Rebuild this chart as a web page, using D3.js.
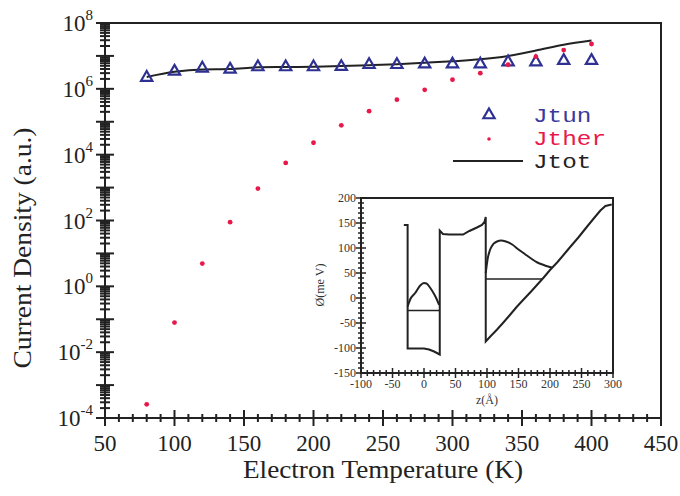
<!DOCTYPE html>
<html>
<head>
<meta charset="utf-8">
<script src="https://cdn.jsdelivr.net/npm/d3@7"></script>
<style>
  body { margin: 0; background: #fff; }
  svg { display: block; }
</style>
</head>
<body>
<div id="vis"></div>
<script>
// frame
const FRAME_WIDTH = 680;
const FRAME_HEIGHT = 496;
const PLOT = {left: 105, right: 661, top: 23, bottom: 418};

// main data
const temps = [80, 100, 120, 140, 160, 180, 200, 220, 240, 260, 280, 300, 320, 340, 360, 380, 400];
const jtun  = [2.2e6, 3.4e6, 4.2e6, 3.9e6, 4.6e6, 4.6e6, 4.6e6, 4.7e6, 5.4e6, 5.4e6, 5.6e6, 5.6e6, 5.6e6, 6.5e6, 6.5e6, 7.2e6, 7.2e6];
const jther = [2.6e-4, 7.9e-2, 4.9, 89, 930, 5.6e3, 2.3e4, 7.8e4, 2.1e5, 4.7e5, 9.3e5, 1.9e6, 3.0e6, 5.4e6, 9.5e6, 1.5e7, 2.3e7];
const jtot  = [2.3e6, 3.3e6, 3.9e6, 4.0e6, 4.5e6, 4.6e6, 4.7e6, 4.9e6, 5.2e6, 5.6e6, 6.2e6, 6.9e6, 7.9e6, 1.0e7, 1.45e7, 2.2e7, 2.95e7];

const xTicks = [50, 100, 150, 200, 250, 300, 350, 400, 450];
const yLabelExps = [-4, -2, 0, 2, 4, 6, 8];
const legendNames = ["Jtun", "Jther", "Jtot"];

// inset data: potential profile and wave functions
const potZ = [-32, -26, -26, 0, 8, 16, 25, 25, 30, 40, 50, 62, 72, 84, 92, 96, 98, 98, 106, 116, 126, 137, 147, 158, 170, 180, 190, 200, 212, 222, 232, 245, 259, 270, 280, 288, 298];
const potV = [146, 146, -101, -101, -103, -107, -113, 135, 128, 127, 127, 127, 134, 141, 146, 152, 162, -87, -76, -63, -49, -33, -18, -3, 13, 27, 41, 56, 72, 87, 102, 121, 143, 160, 175, 184, 187];
const wave1Z = [-26, -22, -14, -6, 0, 4, 10, 16, 20, 24];
const wave1V = [-17, -3, 10, 25, 30, 29, 20, 8, -2, -14];
const wave2Z = [98, 101, 105, 110, 116, 122, 130, 140, 150, 160, 170, 180, 190, 197, 203];
const wave2V = [50, 78, 97, 108, 113, 115, 113, 107, 97, 88, 79, 71, 66, 63, 61];
const levelZ = [[-26, 25], [98, 188]];
const levelV = [-25, 38];
const insetXTicks = [-100, -50, 0, 50, 100, 150, 200, 250, 300];
const insetYTicks = [-150, -100, -50, 0, 50, 100, 150, 200];

const BLUE = "#2e3192";
const RED = "#e8194a";
const INK = "#222";
const SERIF = "'Liberation Serif', 'Times New Roman', serif";

const svg = d3.select("#vis")
  .append("svg")
    .attr("width", FRAME_WIDTH)
    .attr("height", FRAME_HEIGHT);

const X_SCALE = d3.scaleLinear().domain([50, 450]).range([PLOT.left, PLOT.right]);
const Y_SCALE = d3.scaleLog().domain([1e-4, 1e8]).range([PLOT.bottom, PLOT.top]);

// top + right frame lines
svg.append("path")
  .attr("d", `M${PLOT.left},${PLOT.top}H${PLOT.right}V${PLOT.bottom}`)
  .attr("fill", "none").attr("stroke", INK).attr("stroke-width", 2);

// x axis (ticks cross the line)
const xMinor = d3.range(50, 451, 10);
const xAxis = svg.append("g").attr("transform", `translate(0,${PLOT.bottom})`);
xAxis.append("line").attr("x1", PLOT.left).attr("x2", PLOT.right)
  .attr("stroke", INK).attr("stroke-width", 2);
xAxis.selectAll("line.tk").data(xMinor).enter().append("line")
  .attr("class", "tk")
  .attr("x1", d => X_SCALE(d)).attr("x2", d => X_SCALE(d))
  .attr("y1", d => d % 50 === 0 ? -8 : -4)
  .attr("y2", d => d % 50 === 0 ? 8 : 4)
  .attr("stroke", INK).attr("stroke-width", 2);
xAxis.selectAll("text").data(xTicks).enter().append("text")
  .attr("x", d => X_SCALE(d)).attr("y", 33)
  .attr("text-anchor", "middle")
  .attr("font-family", SERIF).attr("font-size", 23).attr("fill", INK)
  .text(d => d);

// y axis (log, minor ticks 2..9)
const yTickVals = [];
for (let e = -4; e <= 8; e++) {
  yTickVals.push({v: Math.pow(10, e), major: true});
  if (e < 8) for (let m = 2; m <= 9; m++) yTickVals.push({v: m * Math.pow(10, e), major: false});
}
const yAxis = svg.append("g").attr("transform", `translate(${PLOT.left},0)`);
yAxis.append("line").attr("y1", PLOT.top).attr("y2", PLOT.bottom)
  .attr("stroke", INK).attr("stroke-width", 2);
yAxis.selectAll("line.tk").data(yTickVals).enter().append("line")
  .attr("class", "tk")
  .attr("y1", d => Y_SCALE(d.v)).attr("y2", d => Y_SCALE(d.v))
  .attr("x1", d => d.major ? -9 : -5)
  .attr("x2", d => d.major ? 9 : 5)
  .attr("stroke", INK).attr("stroke-width", 2);
const yLab = yAxis.selectAll("text").data(yLabelExps).enter().append("text")
  .attr("x", -12).attr("y", d => Y_SCALE(Math.pow(10, d)) + 8)
  .attr("text-anchor", "end")
  .attr("font-family", SERIF).attr("font-size", 23).attr("fill", INK);
yLab.append("tspan").text("10");
yLab.append("tspan").attr("dy", -11).attr("font-size", 15).text(d => d);

// axis titles
svg.append("text")
  .attr("x", 383).attr("y", 478)
  .attr("text-anchor", "middle")
  .attr("textLength", 280).attr("lengthAdjust", "spacingAndGlyphs")
  .attr("font-family", SERIF).attr("font-size", 25).attr("fill", INK)
  .text("Electron Temperature (K)");
svg.append("text")
  .attr("transform", "translate(31,248) rotate(-90)")
  .attr("text-anchor", "middle")
  .attr("textLength", 241).attr("lengthAdjust", "spacingAndGlyphs")
  .attr("font-family", SERIF).attr("font-size", 25).attr("fill", INK)
  .text("Current Density (a.u.)");

// Jtot line
const totLine = d3.line()
  .x((d, i) => X_SCALE(temps[i]))
  .y(d => Y_SCALE(d))
  .curve(d3.curveMonotoneX);
svg.append("path")
  .datum(jtot)
  .attr("d", totLine)
  .attr("fill", "none").attr("stroke", INK).attr("stroke-width", 2);

// Jtun triangles
const tri = d3.symbol().type(d3.symbolTriangle).size(55);
svg.selectAll("path.tun").data(jtun).enter().append("path")
  .attr("class", "tun")
  .attr("d", tri)
  .attr("transform", (d, i) => `translate(${X_SCALE(temps[i])},${Y_SCALE(d)})`)
  .attr("fill", "none").attr("stroke", BLUE).attr("stroke-width", 2.2);

// Jther dots
svg.selectAll("circle.ther").data(jther).enter().append("circle")
  .attr("class", "ther")
  .attr("cx", (d, i) => X_SCALE(temps[i]))
  .attr("cy", d => Y_SCALE(d))
  .attr("r", 2.4)
  .attr("fill", RED);

// legend
const MONO = "'Liberation Mono', 'Courier New', monospace";
const legendColors = ["#3a3a9c", RED, INK];
svg.append("path").attr("d", tri)
  .attr("transform", "translate(489,115)")
  .attr("fill", "none").attr("stroke", BLUE).attr("stroke-width", 2.2);
svg.append("circle").attr("cx", 489).attr("cy", 139).attr("r", 1.8).attr("fill", RED);
svg.append("line").attr("x1", 453).attr("x2", 523).attr("y1", 161).attr("y2", 161)
  .attr("stroke", INK).attr("stroke-width", 2);
svg.selectAll("text.leg").data(legendNames).enter().append("text")
  .attr("class", "leg")
  .attr("x", 533).attr("y", (d, i) => 122 + i * 23)
  .attr("textLength", d => d.length * 14.6).attr("lengthAdjust", "spacingAndGlyphs")
  .attr("font-family", MONO).attr("font-size", 20)
  .attr("fill", (d, i) => legendColors[i])
  .text(d => d);

// ---------- inset ----------
const IX = d3.scaleLinear().domain([-100, 300]).range([361, 613]);
const IY = d3.scaleLinear().domain([-150, 200]).range([373, 198]);
const inset = svg.append("g");

inset.append("rect")
  .attr("x", 361).attr("y", 198).attr("width", 252).attr("height", 175)
  .attr("fill", "#fff").attr("stroke", INK).attr("stroke-width", 2);

// inset ticks every 10, major every 50
const ixMinor = d3.range(-100, 301, 10);
inset.selectAll("line.ixt").data(ixMinor).enter().append("line")
  .attr("x1", d => IX(d)).attr("x2", d => IX(d))
  .attr("y1", d => 373 - (d % 50 === 0 ? 5 : 3))
  .attr("y2", d => 373 + (d % 50 === 0 ? 5 : 3))
  .attr("stroke", INK).attr("stroke-width", 1.5);
const iyMinor = d3.range(-150, 201, 10);
inset.selectAll("line.iyt").data(iyMinor).enter().append("line")
  .attr("y1", d => IY(d)).attr("y2", d => IY(d))
  .attr("x1", d => 361 - (d % 50 === 0 ? 5 : 3))
  .attr("x2", d => 361 + (d % 50 === 0 ? 5 : 3))
  .attr("stroke", INK).attr("stroke-width", 1.5);

inset.selectAll("text.ixl").data(insetXTicks).enter().append("text")
  .attr("x", d => IX(d)).attr("y", 388)
  .attr("text-anchor", "middle")
  .attr("font-family", SERIF).attr("font-size", 12).attr("fill", "#333")
  .text(d => d);
inset.selectAll("text.iyl").data(insetYTicks).enter().append("text")
  .attr("x", 356).attr("y", d => IY(d) + 4)
  .attr("text-anchor", "end")
  .attr("font-family", SERIF).attr("font-size", 12).attr("fill", "#333")
  .text(d => d);
inset.append("text")
  .attr("x", 487).attr("y", 404).attr("text-anchor", "middle")
  .attr("font-family", SERIF).attr("font-size", 12).attr("fill", "#333")
  .text("z(Å)");
inset.append("text")
  .attr("transform", "translate(324,285) rotate(-90)")
  .attr("text-anchor", "middle")
  .attr("font-family", SERIF).attr("font-size", 12).attr("fill", "#333")
  .text("Ø(me V)");

const iLine = (zs) => d3.line().x((d, i) => IX(zs[i])).y(d => IY(d));
inset.append("path").datum(potV).attr("d", iLine(potZ))
  .attr("fill", "none").attr("stroke", INK).attr("stroke-width", 2);
inset.append("path").datum(wave1V).attr("d", iLine(wave1Z).curve(d3.curveMonotoneX))
  .attr("fill", "none").attr("stroke", INK).attr("stroke-width", 2);
inset.append("path").datum(wave2V).attr("d", iLine(wave2Z).curve(d3.curveMonotoneX))
  .attr("fill", "none").attr("stroke", INK).attr("stroke-width", 2);
inset.selectAll("line.lvl").data(levelV).enter().append("line")
  .attr("x1", (d, i) => IX(levelZ[i][0])).attr("x2", (d, i) => IX(levelZ[i][1]))
  .attr("y1", d => IY(d)).attr("y2", d => IY(d))
  .attr("stroke", INK).attr("stroke-width", 1.6);
</script>
</body>
</html>
